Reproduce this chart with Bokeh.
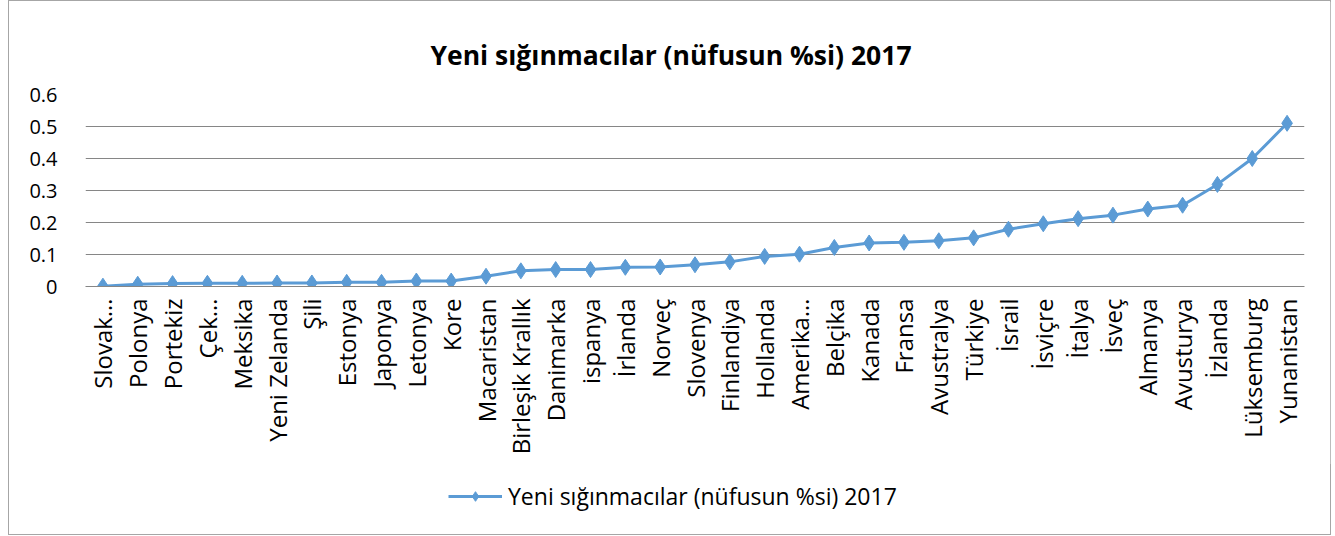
import math
from bokeh.plotting import figure
from bokeh.layouts import column
from bokeh.models import ColumnDataSource, FixedTicker, Legend, LegendItem
from bokeh.embed import file_html
from bokeh.resources import INLINE

countries = ["Slovak…", "Polonya", "Portekiz", "Çek…", "Meksika", "Yeni Zelanda", "Şili",
             "Estonya", "Japonya", "Letonya", "Kore", "Macaristan", "Birleşik Krallık",
             "Danimarka", "ispanya", "İrlanda", "Norveç", "Slovenya", "Finlandiya", "Hollanda",
             "Amerika…", "Belçika", "Kanada", "Fransa", "Avustralya", "Türkiye", "İsrail",
             "İsviçre", "İtalya", "İsveç", "Almanya", "Avusturya", "İzlanda", "Lüksemburg",
             "Yunanistan"]
values = [0.001, 0.007, 0.009, 0.010, 0.010, 0.011, 0.011, 0.013, 0.013, 0.017, 0.017,
          0.032, 0.049, 0.053, 0.053, 0.060, 0.061, 0.068, 0.077, 0.094, 0.101, 0.122,
          0.136, 0.138, 0.143, 0.152, 0.179, 0.196, 0.212, 0.223, 0.242, 0.254, 0.319,
          0.400, 0.510]
y_ticks = [0, 0.1, 0.2, 0.3, 0.4, 0.5, 0.6]
series_name = "Yeni sığınmacılar (nüfusun %si) 2017"

FONT = "Open Sans"
BLUE = "#5B9BD5"

src = ColumnDataSource(dict(x=countries, y=values))

p = figure(x_range=countries, y_range=(0, 0.6), frame_width=1221, frame_height=192,
           output_backend="svg", toolbar_location=None,
           min_border_left=76, min_border_right=26, min_border_top=93, min_border_bottom=178)

p.title.text = series_name
p.title.align = "left"
p.title.offset = 345
p.title.text_font = FONT
p.title.text_font_style = "bold"
p.title.text_font_size = "26.5px"
p.title.text_color = "#000000"
p.title.standoff = 44

ln = p.line("x", "y", source=src, line_color=BLUE, line_width=3)
mk = p.scatter("x", "y", source=src, marker="diamond", size=16, fill_color=BLUE, line_color=BLUE)

p.yaxis.ticker = FixedTicker(ticks=y_ticks)
p.yaxis.axis_line_color = None
p.yaxis.major_tick_line_color = None
p.yaxis.minor_tick_line_color = None
p.yaxis.major_label_text_font = FONT
p.yaxis.major_label_text_font_size = "20px"
p.yaxis.major_label_text_color = "#000000"
p.yaxis.major_label_standoff = 22

p.xaxis.major_label_orientation = math.pi / 2
p.xaxis.axis_line_color = "#868686"
p.xaxis.major_tick_line_color = None
p.xaxis.minor_tick_line_color = None
p.xaxis.major_label_text_font = FONT
p.xaxis.major_label_text_font_size = "24px"
p.xaxis.major_label_text_color = "#000000"
p.xaxis.major_label_standoff = 6

p.xgrid.grid_line_color = None
p.ygrid.grid_line_color = "#868686"
p.ygrid.grid_line_width = 1
p.outline_line_color = None

# legend lives in its own strip under the chart; its sample glyphs sit outside the strip's range
q = figure(width=1323, height=70, x_range=(0, 1), y_range=(0, 1),
           output_backend="svg", toolbar_location=None,
           min_border_left=0, min_border_right=0, min_border_top=0, min_border_bottom=10)
q.axis.visible = False
q.grid.grid_line_color = None
q.outline_line_color = None
lq = q.line(x=[-10, -9], y=[-10, -10], line_color=BLUE, line_width=3)
mq = q.scatter(x=[-10], y=[-10], marker="diamond", size=16, fill_color=BLUE, line_color=BLUE)

legend = Legend(items=[LegendItem(label=series_name, renderers=[lq, mq])],
                location=(363, 12), orientation="horizontal",
                label_text_font=FONT, label_text_font_size="23px",
                label_text_color="#000000", border_line_color=None,
                background_fill_alpha=0,
                glyph_width=54, glyph_height=24, label_standoff=6, margin=0, padding=2)
q.add_layout(legend, "center")

layout = column(p, q, spacing=0)
layout.styles = {"border": "1px solid #a6a6a6", "margin-left": "8px", "width": "1323px"}

open("out.html", "w").write(file_html(layout, INLINE))
